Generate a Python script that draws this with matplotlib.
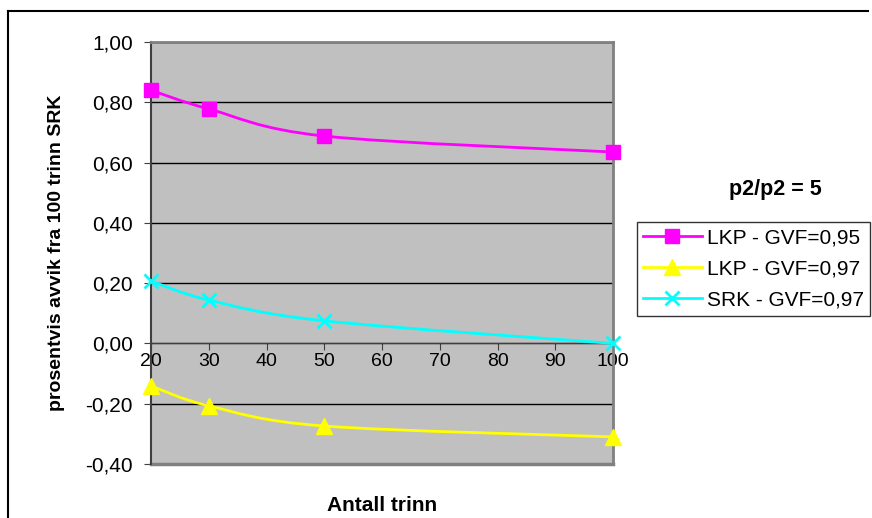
import numpy as np
import matplotlib.pyplot as plt
from matplotlib.path import Path
from matplotlib.patches import PathPatch
from matplotlib.lines import Line2D
from matplotlib.ticker import FuncFormatter

plt.rcParams["font.family"] = ["Liberation Sans", "DejaVu Sans"]

trinn = [20, 30, 50, 100]
lkp_095 = [0.84, 0.778, 0.688, 0.635]
lkp_097 = [-0.141, -0.207, -0.274, -0.31]
srk_097 = [0.207, 0.144, 0.075, 0.0]

series = [
    ("LKP - GVF=0,95", lkp_095, "#FF00FF", "s", 10),
    ("LKP - GVF=0,97", lkp_097, "#FFFF00", "^", 11),
    ("SRK - GVF=0,97", srk_097, "#00FFFF", "x", 10),
]

FS = 14


def smooth_path(x, y):
    # Excel-lignende glatt linje: Bezier-segmenter (Catmull-Rom)
    pts = np.column_stack([x, y]).astype(float)
    n = len(pts)
    verts = [pts[0]]
    codes = [Path.MOVETO]
    for i in range(n - 1):
        p0 = pts[i - 1] if i > 0 else pts[i]
        p1 = pts[i]
        p2 = pts[i + 1]
        p3 = pts[i + 2] if i + 2 < n else pts[i + 1]
        c1 = p1 + (p2 - p0) / 6
        c2 = p2 - (p3 - p1) / 6
        verts += [c1, c2, p2]
        codes += [Path.CURVE4] * 3
    return Path(verts, codes)


fig = plt.figure(figsize=(8.72, 5.18), dpi=100)
ax = fig.add_axes([151 / 872, 1 - 464 / 518, (613 - 151) / 872, (464 - 42) / 518])
ax.set_facecolor("#C0C0C0")

for label, vals, col, mk, ms in series:
    ax.add_patch(PathPatch(smooth_path(trinn, vals), fill=False, edgecolor=col, lw=2, zorder=3))
    ax.plot(trinn, vals, linestyle="none", marker=mk, color=col, markersize=ms,
            markeredgewidth=2 if mk == "x" else 1, zorder=4, clip_on=False)

ax.set_xlim(20, 100)
ax.set_ylim(-0.4, 1.0)
ax.set_yticks(np.arange(-0.4, 1.01, 0.2))
ax.yaxis.set_major_formatter(FuncFormatter(lambda v, p: f"{v:.2f}".replace(".", ",").replace("-0,00", "0,00")))
ax.set_xticks(np.arange(20, 101, 10))
ax.grid(axis="y", color="black", lw=1)
ax.set_axisbelow(True)

ax.spines["bottom"].set_position(("data", 0))
ax.spines["bottom"].set_color("#404040")
ax.spines["left"].set_color("#404040")
ax.spines["left"].set_linewidth(1.5)
for s in ["top", "right"]:
    ax.spines[s].set_color("#808080")
    ax.spines[s].set_linewidth(2)
ax.add_line(Line2D([0, 1], [0, 0], transform=ax.transAxes, color="#808080", lw=2.5, clip_on=False))

ax.tick_params(axis="both", labelsize=FS, direction="out", length=5, color="#404040")
ax.tick_params(axis="y", labelsize=15, pad=8)
ax.tick_params(axis="x", pad=2)

ax.set_xlabel("Antall trinn", fontsize=15, fontweight="bold")
ax.xaxis.set_label_coords(0.5, -0.077)
ax.set_ylabel("prosentvis avvik fra 100 trinn SRK", fontsize=FS, fontweight="bold")
ax.yaxis.set_label_coords(-0.186, 0.5)

handles = [Line2D([], [], color=c, marker=m, markersize=ms, lw=2, markeredgewidth=2 if m == "x" else 1)
           for _, _, c, m, ms in series]
leg = fig.legend(handles, [s[0] for s in series], loc="upper left",
                 bbox_to_anchor=(637 / 872, 1 - 222 / 518), fontsize=15,
                 frameon=True, fancybox=False, edgecolor="black", handlelength=2.8,
                 borderpad=0.3, labelspacing=0.58, handletextpad=0.25, borderaxespad=0)
leg.get_frame().set_linewidth(1)
fig.text(775 / 872, 1 - 190 / 518, "p2/p2 = 5", ha="center", va="center",
         fontsize=15.5, fontweight="bold")

# ramme rundt diagrammet
fig.add_artist(Line2D([8 / 872, 8 / 872], [0, 1 - 11 / 518], color="black", lw=1.5))
fig.add_artist(Line2D([8 / 872, 868 / 872], [1 - 11 / 518, 1 - 11 / 518], color="black", lw=1.5))

fig.savefig("out.png", dpi=100)
